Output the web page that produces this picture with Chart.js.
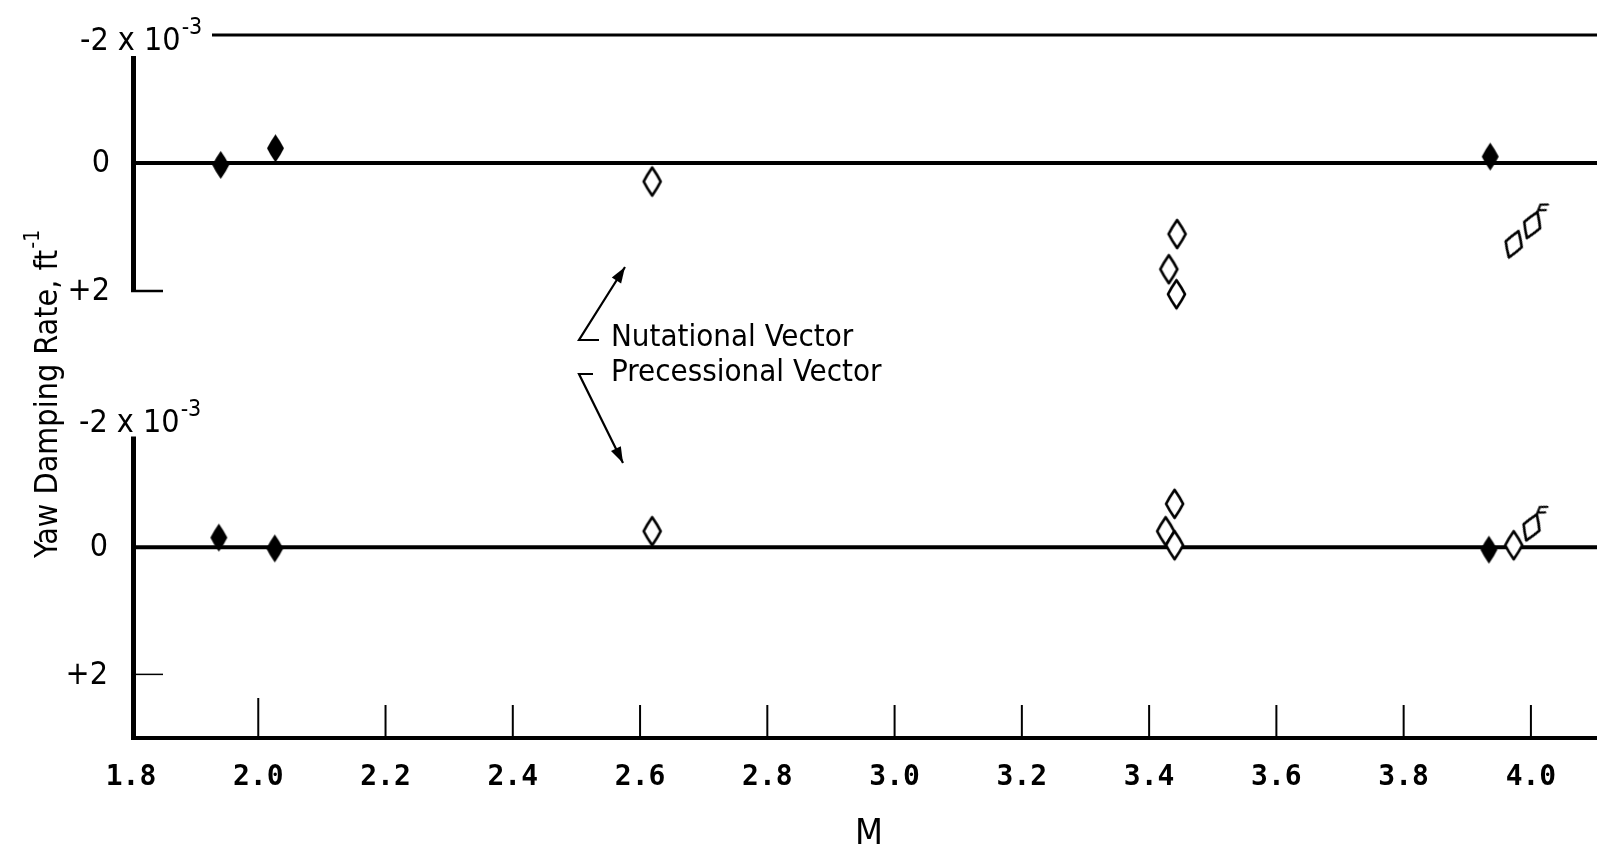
<!DOCTYPE html>
<html>
<head>
<meta charset="utf-8">
<script src="https://cdn.jsdelivr.net/npm/chart.js@4.4.1/dist/chart.umd.min.js"></script>
<style>
  html, body { margin: 0; padding: 0; background: #fff; }
  #wrap { position: relative; width: 1597px; height: 852px; }
</style>
</head>
<body>
<div id="wrap"><canvas id="c"></canvas></div>
<script>
// ---------- Data (Mach number M vs yaw damping rate, units of 1e-3 ft^-1) ----------
const xTicks = [1.8, 2.0, 2.2, 2.4, 2.6, 2.8, 3.0, 3.2, 3.4, 3.6, 3.8, 4.0];
const yTickTop = ["-2", "0", "+2"];
const yTickValues = [-2, 0, 2];

// Upper panel: nutational vector
const nutFilledM    = [1.941, 2.027, 3.936];
const nutFilledRate = [0.03, -0.23, -0.10];
const nutOpenM      = [2.619, 3.444, 3.431, 3.443];
const nutOpenRate   = [0.29, 1.11, 1.66, 2.05];
const nutTiltM      = [3.973];
const nutTiltRate   = [1.27];
const nutFlagM      = [4.002];
const nutFlagRate   = [0.97];

// Lower panel: precessional vector
const preFilledM    = [1.938, 2.026, 3.934];
const preFilledRate = [-0.15, 0.02, 0.04];
const preOpenM      = [2.619, 3.440, 3.426, 3.440, 3.973];
const preOpenRate   = [-0.25, -0.68, -0.25, -0.03, -0.03];
const preFlagM      = [4.001];
const preFlagRate   = [-0.31];

const pts = (xs, ys) => xs.map((x, i) => ({ x: x, y: ys[i] }));

// ---------- Marker images ----------
function diamondCanvas(filled, flag) {
  const w = 17, h = 28, pad = 12;
  const c = document.createElement('canvas');
  c.width = w + pad * 2; c.height = h + pad * 2;
  const g = c.getContext('2d');
  const cx = c.width / 2, cy = c.height / 2;
  g.beginPath();
  g.moveTo(cx, cy - h / 2);
  g.quadraticCurveTo(cx + w * 0.32, cy - h * 0.22, cx + w / 2, cy);
  g.quadraticCurveTo(cx + w * 0.32, cy + h * 0.22, cx, cy + h / 2);
  g.quadraticCurveTo(cx - w * 0.32, cy + h * 0.22, cx - w / 2, cy);
  g.quadraticCurveTo(cx - w * 0.32, cy - h * 0.22, cx, cy - h / 2);
  g.closePath();
  if (filled) {
    g.fillStyle = '#000'; g.fill();
  } else {
    g.fillStyle = '#fff'; g.fill();
    g.lineWidth = 2.7; g.strokeStyle = '#000'; g.lineJoin = 'round'; g.stroke();
  }
  if (flag) {
    g.lineWidth = 2.2; g.strokeStyle = '#000'; g.lineCap = 'round';
    const ty = cy - h / 2;
    g.beginPath();
    g.moveTo(cx, ty); g.lineTo(cx, ty - 8);
    g.moveTo(cx, ty - 2); g.lineTo(cx + 7, ty - 5);
    g.moveTo(cx, ty - 8); g.lineTo(cx + 7, ty - 11);
    g.stroke();
  }
  return c;
}
const filledImg = diamondCanvas(true, false);
const openImg = diamondCanvas(false, false);
const flagImg = diamondCanvas(false, true);

// ---------- Decorations plugin ----------
const deco = {
  id: 'deco',
  beforeDatasetsDraw(chart) {
    const ctx = chart.ctx, ca = chart.chartArea;
    const x = chart.scales.x, yT = chart.scales.yTop, yB = chart.scales.yBot;
    const L = ca.left, R = chart.width;
    const axX = L + 2.5;
    ctx.save();
    ctx.strokeStyle = '#000';
    ctx.lineCap = 'butt';
    const line = (x1, y1, x2, y2, w) => {
      ctx.lineWidth = w; ctx.beginPath(); ctx.moveTo(x1, y1); ctx.lineTo(x2, y2); ctx.stroke();
    };
    // top panel
    line(212, yT.getPixelForValue(-2), R, yT.getPixelForValue(-2), 3);
    line(axX, yT.getPixelForValue(-1.67), axX, yT.getPixelForValue(2), 5);
    line(L, yT.getPixelForValue(0), R, yT.getPixelForValue(0), 4);
    line(L, yT.getPixelForValue(2), L + 32, yT.getPixelForValue(2), 2.5);
    // bottom panel
    line(axX, yB.getPixelForValue(-1.74), axX, ca.bottom, 5);
    line(L, yB.getPixelForValue(0), R, yB.getPixelForValue(0), 4);
    line(L, yB.getPixelForValue(2), L + 32, yB.getPixelForValue(2), 1.5);
    // x axis
    line(L, ca.bottom, R, ca.bottom, 4);
    xTicks.forEach(v => {
      if (v === 1.8) return;
      const px = x.getPixelForValue(v);
      line(px, ca.bottom, px, ca.bottom - (v === 2.0 ? 40 : 33), 2);
    });

    // y tick labels
    ctx.fillStyle = '#000';
    ctx.textBaseline = 'middle';
    ctx.textAlign = 'right';
    ctx.font = '32px "DejaVu Sans Condensed"';
    [[yT, 110], [yB, 108]].forEach(([s, xr]) => {
      yTickValues.forEach((v, i) => {
        if (v === -2) return;
        ctx.fillText(yTickTop[i], xr, s.getPixelForValue(v) + 1);
      });
    });
    // "-2 x 10^-3" labels
    ctx.textBaseline = 'alphabetic';
    ctx.textAlign = 'left';
    const expLabel = (x0, base) => {
      ctx.font = '32px "DejaVu Sans Condensed"';
      ctx.fillText('-2 x 10', x0, base);
      const w = ctx.measureText('-2 x 10').width;
      ctx.font = '23px "DejaVu Sans Condensed"';
      ctx.fillText('-3', x0 + w + 1, base - 16);
    };
    expLabel(80, yT.getPixelForValue(-2) + 15);
    expLabel(79, yB.getPixelForValue(-2) + 12);

    // y axis title
    ctx.save();
    ctx.translate(57, 558);
    ctx.rotate(-Math.PI / 2);
    ctx.font = '32px "DejaVu Sans Condensed"';
    ctx.fillText('Yaw Damping Rate, ft', 0, 0);
    const tw = ctx.measureText('Yaw Damping Rate, ft').width;
    ctx.font = '21px "DejaVu Sans Condensed"';
    ctx.fillText('-1', tw + 1, -18);
    ctx.restore();

    // x axis title
    ctx.textAlign = 'center';
    ctx.font = '36px "DejaVu Sans Condensed"';
    ctx.fillText('M', 869, 844);

    // annotation
    ctx.textAlign = 'left';
    ctx.font = '31px "DejaVu Sans Condensed"';
    ctx.fillText('Nutational Vector', 611, 346);
    ctx.fillText('Precessional Vector', 611, 381);

    const arrow = (pts, tip) => {
      ctx.lineWidth = 2.2;
      ctx.beginPath();
      ctx.moveTo(pts[0][0], pts[0][1]);
      for (let i = 1; i < pts.length; i++) ctx.lineTo(pts[i][0], pts[i][1]);
      ctx.stroke();
      const [fx, fy] = pts[pts.length - 2], [tx, ty] = tip;
      const a = Math.atan2(ty - fy, tx - fx);
      const len = 16, hw = 5.5;
      ctx.beginPath();
      ctx.moveTo(tx, ty);
      ctx.lineTo(tx - len * Math.cos(a) + hw * Math.sin(a), ty - len * Math.sin(a) - hw * Math.cos(a));
      ctx.lineTo(tx - len * Math.cos(a) - hw * Math.sin(a), ty - len * Math.sin(a) + hw * Math.cos(a));
      ctx.closePath();
      ctx.fill();
    };
    arrow([[599, 340], [579, 340], [625, 267]], [625, 267]);
    arrow([[593, 374], [579, 374], [623, 463]], [623, 463]);
    ctx.restore();
  }
};

const ds = (label, data, img, axis, rot) => ({
  label, data, yAxisID: axis,
  pointStyle: img, pointRotation: rot || 0,
  showLine: false, clip: false,
  backgroundColor: '#000', borderColor: '#000'
});

new Chart(document.getElementById('c'), {
  type: 'scatter',
  data: {
    datasets: [
      ds('Nutational filled', pts(nutFilledM, nutFilledRate), filledImg, 'yTop'),
      ds('Nutational open', pts(nutOpenM, nutOpenRate), openImg, 'yTop'),
      ds('Nutational tilted', pts(nutTiltM, nutTiltRate), openImg, 'yTop', 20),
      ds('Nutational flagged', pts(nutFlagM, nutFlagRate), flagImg, 'yTop', 22),
      ds('Precessional filled', pts(preFilledM, preFilledRate), filledImg, 'yBot'),
      ds('Precessional open', pts(preOpenM, preOpenRate), openImg, 'yBot'),
      ds('Precessional flagged', pts(preFlagM, preFlagRate), flagImg, 'yBot', 22)
    ]
  },
  options: {
    responsive: true,
    maintainAspectRatio: false,
    animation: false,
    events: [],
    layout: { padding: { top: 35, right: 0, bottom: 0, left: 0 } },
    plugins: { legend: { display: false }, tooltip: { enabled: false } },
    scales: {
      x: {
        type: 'linear', min: 1.8, max: 4.096,
        afterBuildTicks: s => { s.ticks = xTicks.map(v => ({ value: v })); },
        afterFit: s => { s.height = 114; },
        grid: { display: false, drawTicks: false },
        border: { display: false },
        ticks: {
          color: '#000', padding: 23, maxRotation: 0, autoSkip: false,
          font: { family: 'DejaVu Sans Mono', size: 28, weight: 'bold' },
          callback: v => Number(v).toFixed(1)
        }
      },
      yTop: {
        type: 'linear', position: 'left', stack: 'panels', stackWeight: 320, weight: 2,
        min: -2, max: 3, reverse: true,
        afterFit: s => { s.width = 131; },
        grid: { display: false }, border: { display: false },
        ticks: { display: false }
      },
      yBot: {
        type: 'linear', position: 'left', stack: 'panels', stackWeight: 383, weight: 1,
        min: -3.02, max: 3.0, reverse: true,
        afterFit: s => { s.width = 131; },
        grid: { display: false }, border: { display: false },
        ticks: { display: false }
      }
    }
  },
  plugins: [deco]
});
</script>
</body>
</html>
